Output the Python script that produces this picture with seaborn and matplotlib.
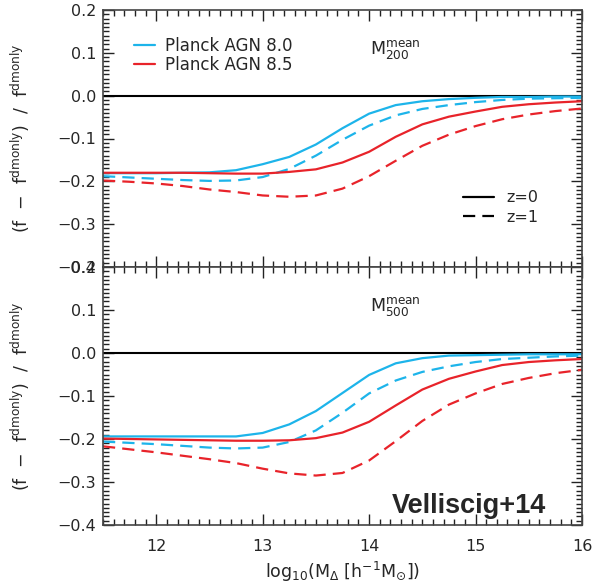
import numpy as np
import pandas as pd
import matplotlib
matplotlib.use("Agg")
import matplotlib.pyplot as plt
import seaborn as sns
from matplotlib.lines import Line2D
from matplotlib.ticker import MultipleLocator, FuncFormatter

# ---------------- data ----------------
log_mass = [11.5, 11.75, 12.0, 12.25, 12.5, 12.75, 13.0, 13.25, 13.5, 13.75,
            14.0, 14.25, 14.5, 14.75, 15.0, 15.25, 15.5, 15.75, 16.0]
models = ["Planck AGN 8.0", "Planck AGN 8.5"]
redshifts = ["z=0", "z=1"]
panels = ["200", "500"]

# M200 mean
agn80_z0_m200 = [-0.181, -0.181, -0.181, -0.180, -0.179, -0.174, -0.160, -0.143, -0.114, -0.076,
                 -0.042, -0.022, -0.013, -0.008, -0.005, -0.003, -0.003, -0.002, -0.002]
agn80_z1_m200 = [-0.188, -0.191, -0.194, -0.197, -0.199, -0.198, -0.190, -0.171, -0.140, -0.103,
                 -0.070, -0.046, -0.031, -0.022, -0.015, -0.010, -0.007, -0.006, -0.005]
agn85_z0_m200 = [-0.180, -0.180, -0.180, -0.180, -0.181, -0.182, -0.182, -0.178, -0.172, -0.156,
                 -0.131, -0.096, -0.067, -0.049, -0.037, -0.026, -0.020, -0.016, -0.013]
agn85_z1_m200 = [-0.198, -0.201, -0.205, -0.211, -0.219, -0.225, -0.233, -0.236, -0.233, -0.217,
                 -0.188, -0.152, -0.117, -0.091, -0.071, -0.055, -0.044, -0.036, -0.030]
# M500 mean
agn80_z0_m500 = [-0.194, -0.194, -0.194, -0.194, -0.194, -0.194, -0.186, -0.166, -0.135, -0.093,
                 -0.051, -0.024, -0.012, -0.006, -0.005, -0.004, -0.003, -0.003, -0.003]
agn80_z1_m500 = [-0.206, -0.209, -0.212, -0.216, -0.220, -0.222, -0.220, -0.207, -0.180, -0.139,
                 -0.094, -0.064, -0.044, -0.031, -0.021, -0.014, -0.011, -0.008, -0.006]
agn85_z0_m500 = [-0.199, -0.200, -0.201, -0.202, -0.203, -0.204, -0.204, -0.203, -0.198, -0.185,
                 -0.160, -0.122, -0.085, -0.060, -0.043, -0.028, -0.021, -0.017, -0.014]
agn85_z1_m500 = [-0.217, -0.224, -0.231, -0.239, -0.247, -0.256, -0.269, -0.280, -0.285, -0.279,
                 -0.250, -0.205, -0.158, -0.120, -0.094, -0.072, -0.058, -0.047, -0.039]

series = {
    ("200", models[0], "z=0"): agn80_z0_m200,
    ("200", models[0], "z=1"): agn80_z1_m200,
    ("200", models[1], "z=0"): agn85_z0_m200,
    ("200", models[1], "z=1"): agn85_z1_m200,
    ("500", models[0], "z=0"): agn80_z0_m500,
    ("500", models[0], "z=1"): agn80_z1_m500,
    ("500", models[1], "z=0"): agn85_z0_m500,
    ("500", models[1], "z=1"): agn85_z1_m500,
}
rows = []
for (p, m, z), vals in series.items():
    for x, v in zip(log_mass, vals):
        rows.append({"panel": p, "model": m, "z": z, "logM": x, "frac": v})
df = pd.DataFrame(rows)

# ---------------- style ----------------
sns.set_style("ticks")
plt.rcParams["font.family"] = ["DejaVu Sans"]
plt.rcParams["mathtext.fontset"] = "dejavusans"

palette = {models[0]: "#1db4ea", models[1]: "#e8232a"}
dashes = {"z=0": "", "z=1": (5.5, 3.2)}

W, H = 597, 583
fig = plt.figure(figsize=(W / 100, H / 100), dpi=100)
L, R = 103 / W, 582 / W
ax_top = fig.add_axes([L, 1 - 267 / H, R - L, 257 / H])
ax_bot = fig.add_axes([L, 1 - 525 / H, R - L, 258 / H])

def fmt(v, pos):
    s = f"{v:.1f}"
    if s == "-0.0":
        s = "0.0"
    return s.replace("-", "\u2212")

ylab = r"(f  $-$  f$^{\rm dmonly}$)  /  f$^{\rm dmonly}$"

for ax, p in [(ax_top, "200"), (ax_bot, "500")]:
    ax.axhline(0, color="black", lw=1.5, zorder=1)
    sns.lineplot(data=df[df.panel == p], x="logM", y="frac", hue="model", style="z",
                 palette=palette, dashes=dashes, estimator=None, lw=1.6,
                 legend=False, ax=ax, zorder=2)
    ax.set_xlim(11.5, 16)
    ax.set_ylim(-0.4, 0.2)
    ax.xaxis.set_major_locator(MultipleLocator(1))
    ax.xaxis.set_minor_locator(MultipleLocator(0.1))
    ax.yaxis.set_major_locator(MultipleLocator(0.1))
    ax.yaxis.set_minor_locator(MultipleLocator(0.01))
    ax.yaxis.set_major_formatter(FuncFormatter(fmt))
    ax.tick_params(which="both", direction="in", top=True, right=True,
                   color="#222222", labelsize=11.5, width=1.0)
    ax.tick_params(which="major", length=8, pad=5)
    ax.tick_params(which="minor", length=4)
    for s in ax.spines.values():
        s.set_color("#444444")
        s.set_linewidth(1.2)
    ax.set_ylabel(ylab, fontsize=12.5)
    ax.yaxis.set_label_coords(-0.148, 0.5)
    ax.set_xlabel("")
    ax.text(0.61, 0.845, r"$\mathregular{M^{mean}_{" + p + "}}$", transform=ax.transAxes,
            ha="center", va="center", fontsize=12.5)

ax_top.tick_params(labelbottom=False)
ax_bot.set_xlabel(r"log$_{10}$(M$_{\Delta}$ [h$^{-1}$M$_{\odot}$])", fontsize=12.5)
ax_bot.xaxis.set_label_coords(0.5, -0.135)
ax_bot.tick_params(axis="x", which="major", pad=10)

# legends
h_models = [Line2D([], [], color=palette[m], lw=1.6) for m in models]
leg1 = ax_top.legend(h_models, models, loc="upper left", bbox_to_anchor=(0.065, 0.896),
                     frameon=False, fontsize=12, handlelength=1.25, handletextpad=0.6,
                     labelspacing=0.05, borderpad=0, borderaxespad=0)
ax_top.add_artist(leg1)
h_z = [Line2D([], [], color="black", lw=1.6, linestyle="-"),
       Line2D([], [], color="black", lw=1.6, dashes=(5.5, 3.2))]
ax_top.legend(h_z, redshifts, loc="upper left", bbox_to_anchor=(0.7525, 0.299),
              frameon=False, fontsize=11.5, handlelength=1.9, handletextpad=0.8,
              labelspacing=0.3, borderpad=0, borderaxespad=0)

ax_bot.text(0.765, 0.075, "Velliscig+14", transform=ax_bot.transAxes, ha="center",
            va="center", fontsize=19.5, fontweight="bold", family=["Liberation Sans"])

fig.savefig("out.png", dpi=100)
